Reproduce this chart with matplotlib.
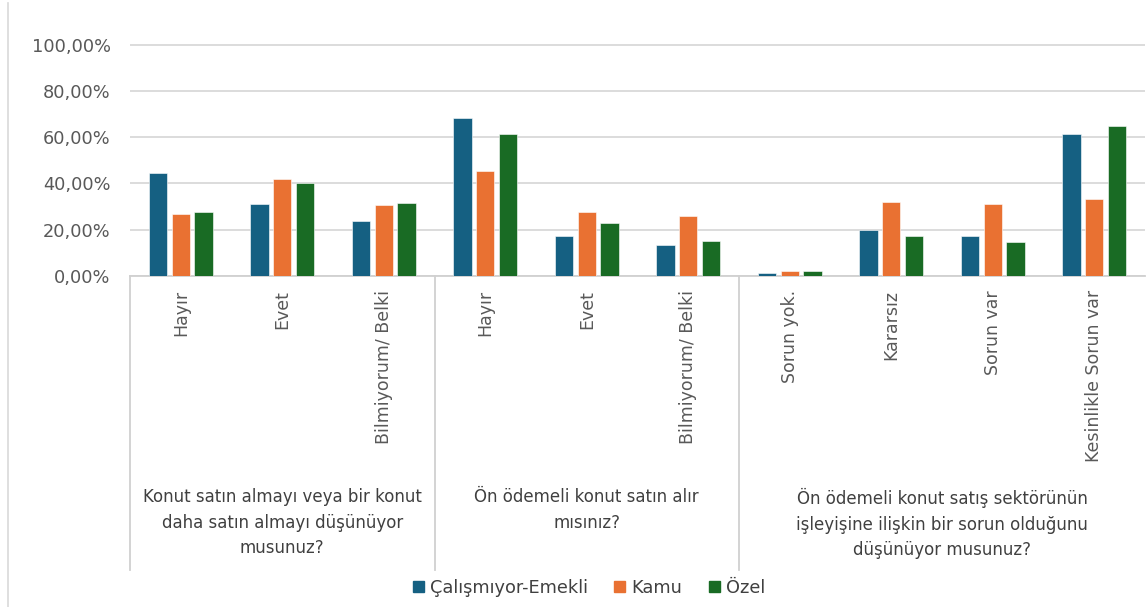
import numpy as np
import matplotlib
matplotlib.use("Agg")
import matplotlib.pyplot as plt
from matplotlib.patches import Patch
from matplotlib.ticker import FuncFormatter
import matplotlib.transforms as mtransforms

# Data (fractions of 1)
answers = ["Hayır", "Evet", "Bilmiyorum/ Belki",
           "Hayır", "Evet", "Bilmiyorum/ Belki",
           "Sorun yok.", "Kararsız", "Sorun var", "Kesinlikle Sorun var"]
questions = ["Konut satın almayı veya bir konut\ndaha satın almayı düşünüyor\nmusunuz?",
             "Ön ödemeli konut satın alır\nmısınız?",
             "Ön ödemeli konut satış sektörünün\nişleyişine ilişkin bir sorun olduğunu\ndüşünüyor musunuz?"]
group_sizes = [3, 3, 4]
series_names = ["Çalışmıyor-Emekli", "Kamu", "Özel"]
emekli = [0.447, 0.310, 0.236, 0.682, 0.171, 0.135, 0.011, 0.201, 0.171, 0.613]
kamu = [0.266, 0.419, 0.305, 0.454, 0.276, 0.260, 0.021, 0.320, 0.310, 0.335]
ozel = [0.276, 0.400, 0.316, 0.613, 0.231, 0.151, 0.021, 0.175, 0.146, 0.648]
colors = ["#156082", "#E97132", "#196B24"]

plt.rcParams['font.family'] = ['DejaVu Sans']

fig = plt.figure(figsize=(11.48, 6.07), dpi=100)
ax = fig.add_axes([130 / 1148, 1 - 276 / 607, 1015 / 1148, 232 / 607])

x = np.arange(len(answers))
w = 0.18
step = 0.224
for i, vals in enumerate([emekli, kamu, ozel]):
    ax.bar(x + (i - 1) * step, vals, width=w, color=colors[i],
           edgecolor="white", linewidth=0.4, zorder=3)

ax.set_xlim(-0.5, len(answers) - 0.5)
ax.set_ylim(0, 1.003)
ax.set_yticks(np.arange(0, 1.01, 0.2))
ax.yaxis.set_major_formatter(FuncFormatter(lambda v, p: f"{v * 100:.2f}%".replace(".", ",")))
ax.grid(axis="y", color="#d9d9d9", linewidth=1.3, zorder=0)
for s in ["top", "right", "left"]:
    ax.spines[s].set_visible(False)
ax.spines["bottom"].set_color("#d0d0d0")
ax.spines["bottom"].set_linewidth(1.3)
ax.tick_params(axis="y", length=0, pad=14, labelsize=12.8, labelcolor="#595959")
ax.set_xticks(x)
ax.set_xticklabels(answers, rotation=90, fontsize=12.5, color="#595959")
ax.tick_params(axis="x", length=0, pad=10)

# group separators and group labels
trans = mtransforms.blended_transform_factory(ax.transData, ax.transAxes)
bottom = -(570 - 276) / 232
start = 0
for size, q in zip(group_sizes, questions):
    ax.plot([start - 0.5, start - 0.5], [0, bottom], color="#d0d0d0",
            linewidth=1.3, transform=trans, clip_on=False)
    center = start + (size - 1) / 2
    ax.text(center, -(488 - 276) / 232, q, transform=trans, ha="center", va="top",
            fontsize=12, color="#404040", linespacing=1.55, multialignment="center")
    start += size

# outer border on the left
fig.add_artist(plt.Line2D([8 / 1148, 8 / 1148], [0, 1 - 3 / 607], color="#d9d9d9", linewidth=1.2))

handles = [Patch(color=c) for c in colors]
fig.legend(handles, series_names, loc="center", bbox_to_anchor=(0.513, 1 - 588 / 607),
           ncol=3, frameon=False, fontsize=12.8, handlelength=0.6, handleheight=0.6,
           handletextpad=0.35, columnspacing=1.5, labelcolor="#404040")

fig.savefig("out.png", dpi=100)
